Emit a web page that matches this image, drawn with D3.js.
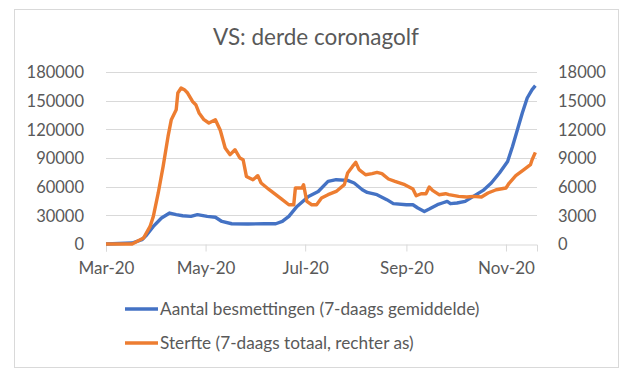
<!DOCTYPE html>
<html>
<head>
<meta charset="utf-8">
<script src="https://cdn.jsdelivr.net/npm/d3@7"></script>
<style>
  body { margin: 0; background: #fff; }
  text { font-family: Lato, "Open Sans", sans-serif; fill: #595959; }
</style>
</head>
<body>
<div id="chart"></div>
<script>
//chart data
var title = "VS: derde coronagolf";
var seriesNames = ["Aantal besmettingen (7-daags gemiddelde)", "Sterfte (7-daags totaal, rechter as)"];

var caseDates = ["2020-03-01","2020-03-17","2020-03-23","2020-03-26","2020-03-30","2020-04-04","2020-04-09","2020-04-13","2020-04-17","2020-04-22","2020-04-26","2020-05-02","2020-05-07","2020-05-11","2020-05-17","2020-05-27","2020-06-06","2020-06-13","2020-06-17","2020-06-21","2020-06-26","2020-07-03","2020-07-09","2020-07-15","2020-07-20","2020-07-27","2020-07-31","2020-08-05","2020-08-08","2020-08-14","2020-08-20","2020-08-24","2020-09-01","2020-09-05","2020-09-08","2020-09-12","2020-09-15","2020-09-20","2020-09-23","2020-09-26","2020-09-28","2020-10-02","2020-10-07","2020-10-12","2020-10-18","2020-10-23","2020-10-28","2020-11-02","2020-11-05","2020-11-08","2020-11-11","2020-11-14","2020-11-17","2020-11-19"];
var caseValues = [0,1000,4500,9700,18400,27200,32400,30700,29600,28900,30700,28900,28000,23600,21200,20900,21200,21200,23600,28900,39300,49800,55000,65500,67300,66600,63800,56800,54000,51600,46400,42200,41100,41100,37700,34100,36600,41100,42900,44600,42200,42900,44600,49800,56100,63800,74300,86400,102100,119600,137100,152800,161500,165700];

var deathDates = ["2020-03-01","2020-03-17","2020-03-24","2020-03-28","2020-03-30","2020-04-02","2020-04-05","2020-04-08","2020-04-10","2020-04-13","2020-04-14","2020-04-16","2020-04-18","2020-04-20","2020-04-23","2020-04-25","2020-04-27","2020-04-30","2020-05-03","2020-05-07","2020-05-10","2020-05-13","2020-05-16","2020-05-19","2020-05-22","2020-05-24","2020-05-26","2020-05-30","2020-06-02","2020-06-04","2020-06-09","2020-06-13","2020-06-17","2020-06-21","2020-06-24","2020-06-25","2020-06-29","2020-06-30","2020-07-02","2020-07-05","2020-07-08","2020-07-11","2020-07-15","2020-07-20","2020-07-25","2020-07-27","2020-07-30","2020-08-01","2020-08-03","2020-08-07","2020-08-11","2020-08-14","2020-08-17","2020-08-21","2020-08-25","2020-08-31","2020-09-05","2020-09-07","2020-09-10","2020-09-13","2020-09-15","2020-09-17","2020-09-21","2020-09-25","2020-09-27","2020-10-03","2020-10-08","2020-10-12","2020-10-17","2020-10-21","2020-10-26","2020-11-01","2020-11-03","2020-11-07","2020-11-12","2020-11-16","2020-11-17","2020-11-19"];
var deathValues = [0,0,630,1840,2890,5340,8120,11260,13010,14050,15800,16330,16150,15800,14920,14580,13710,13010,12660,13010,11900,10050,9350,9870,9000,8820,7070,6730,7150,6380,5680,5160,4640,4110,4110,5860,5860,6210,4460,4110,4110,4810,5160,5500,6210,7430,8120,8540,7780,7250,7360,7490,7360,6800,6550,6210,5760,5050,5260,5260,5960,5610,5160,5260,5160,4980,4920,4980,4920,5340,5680,5860,6380,7150,7780,8300,8820,9590];

var leftTicks = [0, 30000, 60000, 90000, 120000, 150000, 180000];
var rightTicks = [0, 3000, 6000, 9000, 12000, 15000, 18000];
var xTickDates = ["2020-03-01","2020-05-01","2020-07-01","2020-09-01","2020-11-01"];
var colors = ["#4472C4", "#ED7D31"];

var W = 625, H = 382;
var plot = {left: 106, right: 537, top: 72, bottom: 244};

var parse = d3.utcParse("%Y-%m-%d");
var fmtX = d3.utcFormat("%b-%y");

var svg = d3.select("#chart").append("svg")
    .attr("width", W)
    .attr("height", H);

//chart border
svg.append("rect")
    .attr("x", 14.5).attr("y", 9.5)
    .attr("width", 604).attr("height", 358)
    .attr("fill", "#fff")
    .attr("stroke", "#d9d9d9");

svg.append("text")
    .attr("x", 316).attr("y", 45)
    .attr("text-anchor", "middle")
    .style("font-size", "22.5px")
    .text(title);

var x = d3.scaleUtc()
    .domain([parse("2020-03-01"), parse("2020-11-20")])
    .range([plot.left, plot.right]);
var yL = d3.scaleLinear().domain([0, 180000]).range([plot.bottom, plot.top]);
var yR = d3.scaleLinear().domain([0, 18000]).range([plot.bottom, plot.top]);

//gridlines
svg.append("g")
  .selectAll("line")
  .data(leftTicks.slice(1))
  .enter().append("line")
    .attr("x1", plot.left).attr("x2", plot.right)
    .attr("y1", d => Math.round(yL(d)) + 0.5)
    .attr("y2", d => Math.round(yL(d)) + 0.5)
    .attr("stroke", "#d9d9d9");

//left axis
var gL = svg.append("g")
    .attr("transform", "translate(" + (plot.left - 19) + ",0)")
    .call(d3.axisLeft(yL).tickValues(leftTicks).tickSize(0).tickFormat(d3.format("d")));
gL.select(".domain").remove();
gL.selectAll("text").style("font-size", "16.5px").attr("dy", "0.35em").attr("fill", null);

//right axis
var gR = svg.append("g")
    .attr("transform", "translate(" + (plot.right + 18) + ",0)")
    .call(d3.axisRight(yR).tickValues(rightTicks).tickSize(0).tickFormat(d3.format("d")));
gR.select(".domain").remove();
gR.selectAll("text").style("font-size", "16.5px").attr("dy", "0.35em").attr("fill", null);

//x axis
var gX = svg.append("g")
    .attr("transform", "translate(0," + (Math.round(plot.bottom) + 0.5) + ")")
    .call(d3.axisBottom(x).tickValues(xTickDates.map(parse)).tickSize(7).tickPadding(10).tickFormat(fmtX));
gX.select(".domain").attr("stroke", "#d9d9d9");
gX.selectAll(".tick line").attr("stroke", "#d9d9d9");
gX.selectAll("text").style("font-size", "17px").attr("fill", null);

//lines
var caseData = caseDates.map((d, i) => ({date: parse(d), value: caseValues[i]}));
var deathData = deathDates.map((d, i) => ({date: parse(d), value: deathValues[i]}));

svg.append("path")
    .datum(caseData)
    .attr("fill", "none")
    .attr("stroke", colors[0])
    .attr("stroke-width", 3.4)
    .attr("stroke-linejoin", "round")
    .attr("d", d3.line().x(d => x(d.date)).y(d => yL(d.value)));

svg.append("path")
    .datum(deathData)
    .attr("fill", "none")
    .attr("stroke", colors[1])
    .attr("stroke-width", 3.4)
    .attr("stroke-linejoin", "round")
    .attr("d", d3.line().x(d => x(d.date)).y(d => yR(d.value)));

//legend
var legend = svg.append("g")
  .selectAll("g")
  .data(seriesNames)
  .enter().append("g")
    .attr("transform", (d, i) => "translate(125," + (309 + i * 34) + ")");
legend.append("line")
    .attr("x1", 0).attr("x2", 33)
    .attr("stroke", (d, i) => colors[i])
    .attr("stroke-width", 3.4);
legend.append("text")
    .attr("x", 35).attr("dy", "0.35em")
    .style("font-size", "17.2px")
    .text(d => d);
</script>
</body>
</html>
